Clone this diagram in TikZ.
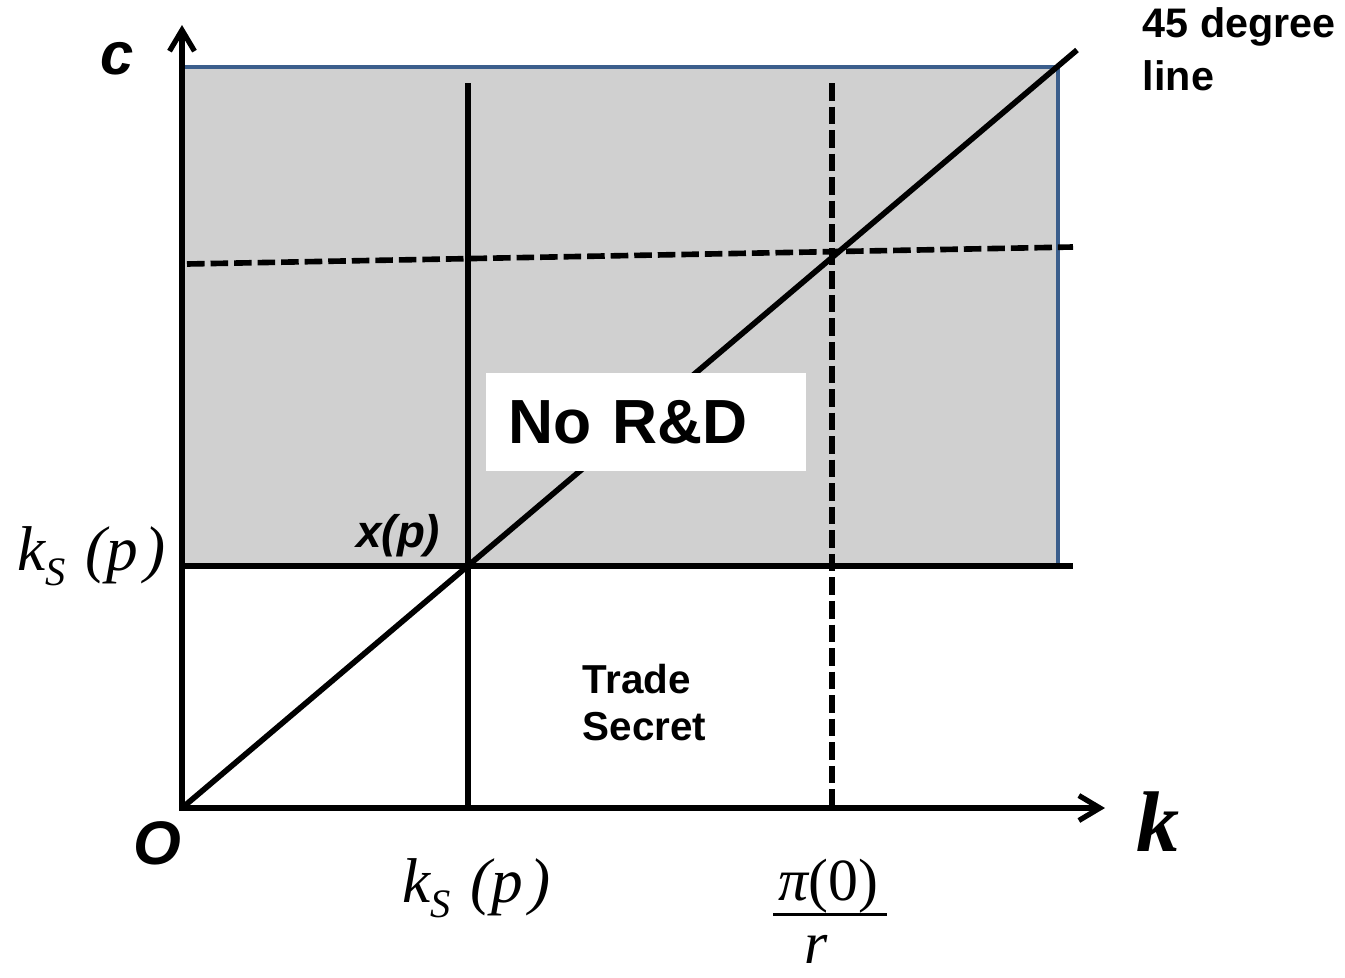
\documentclass[tikz,border=0pt]{standalone}
\usepackage{fontspec}
\setmainfont{Liberation Sans}
\newfontfamily\tms{Liberation Serif}
\usetikzlibrary{arrows.meta}
\definecolor{regiongray}{RGB}{208,208,208}
\definecolor{edgeblue}{RGB}{59,94,140}
% k_S(p) label in the equation-editor look
\newcommand{\kslabel}{{\tms\fontsize{36}{40}\selectfont\itshape k\raisebox{-9pt}{\fontsize{23}{26}\selectfont S}\hspace{0.3em}(p\hspace{0.1em})}}
\begin{document}
\begin{tikzpicture}[x=0.02cm, y=-0.02cm, line width=3.2pt]
 % styles for axes, dashed lines and labels
 \tikzset{axisline/.style={line width=3pt, {Straight Barb[length=0.42cm,width=0.5cm]}-{Straight Barb[length=0.42cm,width=0.5cm]}},
  dashline/.style={dash pattern=on 10pt off 3.4pt},
  boldlab/.style={font=\fontsize{23.5}{30}\selectfont\bfseries, align=left}}
 \useasboundingbox (0,0) rectangle (1345,977);

 %shaded no R&D region
 \fill[regiongray] (182,67) rectangle (1058,566);
 \draw[edgeblue, line width=2.3pt] (182,67) -- (1058,67) -- (1058,566);

 %threshold lines
 \draw (182,566) -- (1073,566);
 \draw (468,83) -- (468,808);
 \draw[dashline] (832,83) -- (832,808);
 \draw[dashline] (187,264) -- (1073,247);

 %45 degree line
 \draw (182,808) -- (1077,50);

 %region label
 \node[fill=white, anchor=west, inner xsep=0.46cm, text width=5.48cm, minimum height=1.96cm, align=left,
  font=\fontsize{35.5}{40}\selectfont\bfseries] (nord) at (483,422) {No R\&D};

 %axes
 \draw[axisline] (182,25) -- (182,808) -- (1105,808);

 %axis labels
 \node[font=\fontsize{34}{40}\selectfont\bfseries\itshape] (clab) at (117,59) {c};
 \node[font=\fontsize{35}{40}\selectfont\bfseries\itshape] (olab) at (157,843) {O};
 \node[font=\tms\fontsize{49}{56}\selectfont\bfseries\itshape] (klab) at (1158,822) {k};
 \node[boldlab, anchor=base west, inner sep=0pt] (deglab) at (1140,90) {45 degree\\line};

 %point and region labels
 \node[font=\fontsize{26}{30}\selectfont\bfseries\itshape, anchor=base east, inner sep=0pt] (xlab) at (443,547) {x(p)};
 \node[boldlab, font=\fontsize{23}{26.6}\selectfont\bfseries, anchor=base west, inner sep=0pt] (tslab) at (580,740) {Trade\\Secret};

 %tick labels
 \node[anchor=base west, inner sep=0pt] (kleft) at (15,570) {\kslabel};
 \node[anchor=base west, inner sep=0pt] (kbot) at (400,902) {\kslabel};
 \node[anchor=base west, inner sep=0pt, font=\tms\fontsize{34}{38}\selectfont] (pinum) at (776,900) {{\itshape π}(0)};
 \draw[line width=1.7pt] (773,914) -- (887,914);
 \node[anchor=base west, inner sep=0pt, font=\tms\fontsize{34}{38}\selectfont\itshape] (rden) at (802,963) {r};
\end{tikzpicture}
\end{document}
